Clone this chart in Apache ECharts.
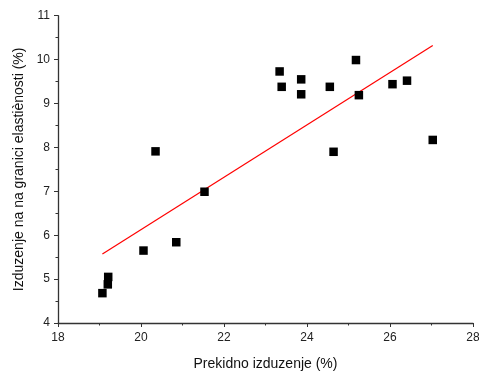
<!DOCTYPE html>
<html>
<head>
<meta charset="utf-8">
<script src="https://cdn.jsdelivr.net/npm/echarts@6/dist/echarts.min.js"></script>
<style>html,body{margin:0;padding:0;background:#fff}#c{width:479px;height:372px}</style>
</head>
<body>
<div id="c"></div>
<script>
var xValues = [19.07, 19.20, 19.21, 20.06, 20.85, 21.53, 20.35, 23.34, 23.39, 23.86, 23.86, 24.55, 25.18, 25.25, 24.64, 26.06, 26.41, 27.03];
var yValues = [4.68, 4.88, 5.05, 5.65, 5.84, 6.99, 7.91, 9.73, 9.38, 9.55, 9.21, 9.38, 9.99, 9.19, 7.90, 9.44, 9.52, 8.17];
var fitX = [19.07, 27.03];
var fitY = [5.57, 10.32];
var xTitle = 'Prekidno izduzenje (%)';
var yTitle = 'Izduzenje na na granici elastiènosti (%)';

var pts = xValues.map(function (x, i) { return [x, yValues[i]]; });
var fit = fitX.map(function (x, i) { return [x, fitY[i]]; });
var font = 'Liberation Sans, Arial, sans-serif';
var axisCommon = {
  axisLine: { show: true, lineStyle: { color: '#333', width: 1.3 } },
  axisTick: { show: true, inside: false, length: 4, lineStyle: { color: '#333' } },
  minorTick: { show: true, splitNumber: 2, length: 2.5, lineStyle: { color: '#333' } },
  splitLine: { show: false },
  axisLabel: { color: '#222', fontSize: 12, fontFamily: font }
};
var chart = echarts.init(document.getElementById('c'));
chart.setOption({
  animation: false,
  backgroundColor: '#fff',
  grid: { left: 58, right: 6, top: 15.7, bottom: 49, containLabel: false, outerBoundsMode: 'none' },
  xAxis: Object.assign({
    type: 'value', min: 18, max: 28, interval: 2,
    name: xTitle, nameLocation: 'middle', nameGap: 34,
    nameTextStyle: { color: '#111', fontSize: 14, fontFamily: font }
  }, axisCommon, { axisLabel: { color: '#222', fontSize: 12, fontFamily: font, margin: 9 } }),
  yAxis: Object.assign({
    type: 'value', min: 4, max: 11, interval: 1,
    name: yTitle, nameLocation: 'middle', nameGap: 32,
    nameTextStyle: { color: '#111', fontSize: 14, fontFamily: font }
  }, axisCommon, { axisLabel: { color: '#222', fontSize: 12, fontFamily: font, margin: 8 } }),
  series: [
    { type: 'scatter', data: pts, symbol: 'rect', symbolSize: 8.5, itemStyle: { color: '#000', opacity: 1 }, z: 3 },
    { type: 'line', data: fit, symbol: 'none', lineStyle: { color: '#ff0000', width: 1.2 }, z: 2 }
  ]
});
</script>
</body>
</html>
